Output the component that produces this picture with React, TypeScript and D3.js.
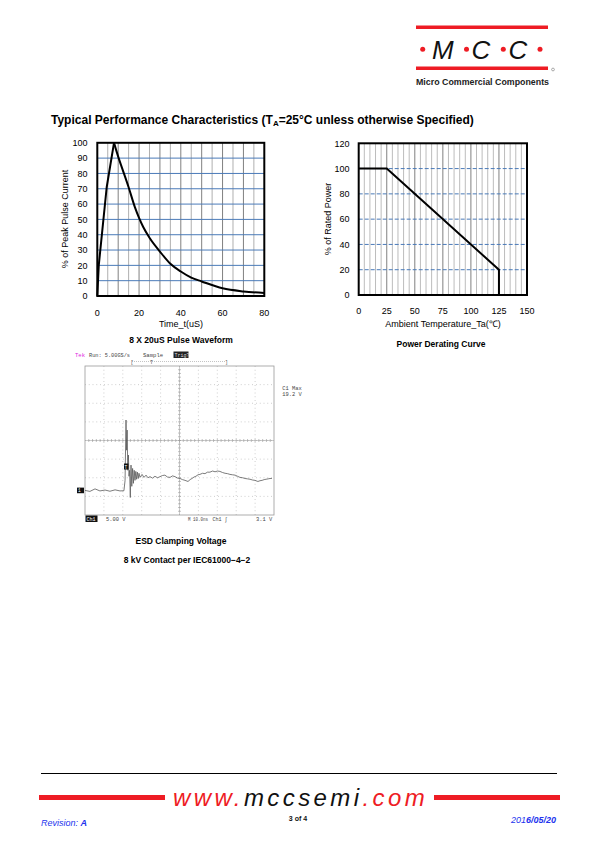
import React from "react";
import * as d3 from "d3";

// ---------- Data ----------
const pulseTime = [0, 0.7, 4.5, 8, 10, 12, 15, 18, 20, 22, 25, 30, 35, 40, 45, 50, 60, 70, 80];
const pulseCurrent = [0, 20, 71, 100, 91, 83, 71, 58, 51, 45, 38, 29, 21, 16, 12, 9.5, 5, 3, 2];
const pulseXTicks = [0, 20, 40, 60, 80];
const pulseYTicks = [0, 10, 20, 30, 40, 50, 60, 70, 80, 90, 100];

const derateTemp = [0, 25, 125, 125];
const deratePower = [100, 100, 20, 0];
const derateXTicks = [0, 25, 50, 75, 100, 125, 150];
const derateYTicks = [0, 20, 40, 60, 80, 100, 120];

// oscilloscope trace: time (ns), voltage (V)
const scopeTime = [
  0, 2.6, 5.3, 7.9, 10.6, 13.2, 15.9, 18.5, 20.6, 21.2, 21.7, 22.0, 22.3, 22.65, 22.96, 23.28, 23.6, 23.97,
  24.34, 24.76, 25.19, 25.61, 26.03, 26.46, 26.88, 27.3, 27.72, 28.15, 28.57, 29.1, 30.2, 31.2, 32.3, 33.3,
  34.4, 35.7, 37.0, 38.4, 39.7, 41.0, 42.3, 43.6, 45.0, 46.3, 47.6, 49.0, 50.3, 51.6, 52.9, 54.5, 55.6,
  56.6, 57.7, 58.7, 59.8, 60.8, 62.2, 63.5, 64.8, 66.1, 67.5, 68.8, 70.1, 71.4, 72.8, 74.1, 75.4, 76.7,
  78.0, 79.4, 80.7, 82.0, 83.4, 84.7, 86.0, 87.3, 88.6, 89.9, 91.5, 92.6, 93.7, 94.8, 95.8, 96.9, 97.9, 98.9,
];
const scopeVolt = [
  0, -0.27, 0.41, -0.14, 0.1, -0.22, 0.15, -0.14, -0.08, 2.7, 18.9, 10.8, 16.2, 5.4, 9.5, 3.8, 5.4, -1.9,
  6.8, 1.1, 5.9, 1.9, 5.4, 2.7, 5.1, 3.0, 4.9, 3.2, 4.6, 3.5, 4.3, 3.5, 4.1, 3.4,
  3.7, 3.3, 3.8, 3.4, 3.7, 4.0, 4.1, 3.6, 3.5, 3.9, 3.7, 3.3, 3.2, 2.9, 2.7, 2.4, 2.9,
  3.2, 3.6, 3.8, 4.2, 4.3, 4.6, 4.5, 4.9, 4.9, 5.2, 5.0, 5.2, 5.1, 4.8, 4.6, 4.5, 4.3,
  4.2, 4.1, 3.8, 3.5, 3.4, 3.2, 3.1, 3.0, 2.8, 2.7, 2.4, 2.6, 2.7, 2.9, 3.0, 3.1, 3.2, 3.2,
];

const FONT = "'Liberation Sans', Arial, sans-serif";
const BLUE_GRID = "#4a7ab8";

function PulseChart() {
  const x = d3.scaleLinear().domain([0, 80]).range([97.3, 264.3]);
  const y = d3.scaleLinear().domain([0, 100]).range([296, 142.8]);
  const rise = d3.line<number>().x((_, i) => x(pulseTime[i])).y((d) => y(d));
  const fall = d3
    .line<number>()
    .x((_, i) => x(pulseTime[i + 3]))
    .y((d) => y(d))
    .curve(d3.curveMonotoneX);
  const vgrid = d3.range(5, 80, 5);
  const hgrid = d3.range(10, 100, 10);
  return (
    <g fontFamily={FONT}>
      {vgrid.map((v) => (
        <line key={"v" + v} x1={x(v)} x2={x(v)} y1={y(0)} y2={y(100)} stroke={v % 10 === 0 ? "#808080" : "#b0b0b0"} strokeWidth={1} />
      ))}
      {hgrid.map((v) => (
        <line key={"h" + v} x1={x(0)} x2={x(80)} y1={y(v)} y2={y(v)} stroke={BLUE_GRID} strokeWidth={1} />
      ))}
      <rect x={x(0)} y={y(100)} width={x(80) - x(0)} height={y(0) - y(100)} fill="none" stroke="#000" strokeWidth={2} />
      <path d={rise(pulseCurrent.slice(0, 4)) || ""} fill="none" stroke="#000" strokeWidth={2} strokeLinejoin="round" />
      <path d={fall(pulseCurrent.slice(3)) || ""} fill="none" stroke="#000" strokeWidth={2} strokeLinejoin="round" />
      {pulseYTicks.map((v) => (
        <text key={"yt" + v} x={87.5} y={y(v) + 3.2} fontSize={9} textAnchor="end">{v}</text>
      ))}
      {pulseXTicks.map((v) => (
        <text key={"xt" + v} x={x(v)} y={315.5} fontSize={9} textAnchor="middle">{v}</text>
      ))}
      <text x={181} y={326.5} fontSize={9} textAnchor="middle">Time_t(uS)</text>
      <text transform={`translate(68,219) rotate(-90)`} fontSize={9} textAnchor="middle">% of Peak Pulse Current</text>
      <text x={181} y={343.3} fontSize={8.5} fontWeight="bold" textAnchor="middle">8 X 20uS Pulse Waveform</text>
    </g>
  );
}

function DerateChart() {
  const x = d3.scaleLinear().domain([0, 150]).range([358.7, 527]);
  const y = d3.scaleLinear().domain([0, 120]).range([295, 143.3]);
  const line = d3.line<number>().x((_, i) => x(derateTemp[i])).y((d) => y(d));
  const vgrid = d3.range(5, 150, 5);
  const hgrid = d3.range(20, 120, 20);
  return (
    <g fontFamily={FONT}>
      {vgrid.map((v) => (
        <line key={"v" + v} x1={x(v)} x2={x(v)} y1={y(0)} y2={y(120)} stroke={v % 25 === 0 ? "#808080" : "#bcbcbc"} strokeWidth={1} />
      ))}
      {hgrid.map((v) => (
        <line key={"h" + v} x1={x(0)} x2={x(150)} y1={y(v)} y2={y(v)} stroke={BLUE_GRID} strokeWidth={1} strokeDasharray="4,2" />
      ))}
      <rect x={x(0)} y={y(120)} width={x(150) - x(0)} height={y(0) - y(120)} fill="none" stroke="#000" strokeWidth={2} />
      <path d={line(deratePower) || ""} fill="none" stroke="#000" strokeWidth={2} />
      {derateYTicks.map((v) => (
        <text key={"yt" + v} x={349.5} y={y(v) + 3.2} fontSize={9} textAnchor="end">{v}</text>
      ))}
      {derateXTicks.map((v) => (
        <text key={"xt" + v} x={x(v)} y={313.5} fontSize={9} textAnchor="middle">{v}</text>
      ))}
      <text x={443} y={326.5} fontSize={9} textAnchor="middle">Ambient  Temperature_Ta(℃)</text>
      <text transform={`translate(331,219) rotate(-90)`} fontSize={9} textAnchor="middle">% of Rated Power</text>
      <text x={441} y={346.5} fontSize={8.5} fontWeight="bold" textAnchor="middle">Power Derating Curve</text>
    </g>
  );
}

function ScopeChart() {
  const x = d3.scaleLinear().domain([0, 100]).range([85, 274]);
  const y = d3.scaleLinear().domain([-6.6, 33.4]).range([515, 366]);
  const line = d3.line<number>().x((_, i) => x(scopeTime[i])).y((d) => y(d));
  const divX = d3.range(1, 10).map((i) => i * 10);
  const divY = d3.range(1, 8).map((i) => -6.6 + i * 5);
  const cx = x(50);
  const cy = y(13.4);
  const minorX = d3.range(1, 50).map((i) => i * 2);
  const minorY = d3.range(1, 40).map((i) => -6.6 + i);
  const mono = "'Liberation Mono', 'DejaVu Sans Mono', monospace";
  return (
    <g>
      {divX.map((v) => (
        <line key={"dx" + v} x1={x(v)} x2={x(v)} y1={y(33.4)} y2={y(-6.6)} stroke="#9a9a9a" strokeWidth={0.6} strokeDasharray="0.8,3" />
      ))}
      {divY.map((v) => (
        <line key={"dy" + v} x1={x(0)} x2={x(100)} y1={y(v)} y2={y(v)} stroke="#9a9a9a" strokeWidth={0.6} strokeDasharray="0.8,3" />
      ))}
      <line x1={cx} x2={cx} y1={y(33.4)} y2={y(-6.6)} stroke="#aaa" strokeWidth={0.6} />
      <line x1={x(0)} x2={x(100)} y1={cy} y2={cy} stroke="#aaa" strokeWidth={0.6} />
      {minorX.map((v) => (
        <line key={"mx" + v} x1={x(v)} x2={x(v)} y1={cy - 1.5} y2={cy + 1.5} stroke="#999" strokeWidth={0.6} />
      ))}
      {minorY.map((v) => (
        <line key={"my" + v} x1={cx - 1.5} x2={cx + 1.5} y1={y(v)} y2={y(v)} stroke="#999" strokeWidth={0.6} />
      ))}
      <rect x={x(0)} y={y(33.4)} width={x(100) - x(0)} height={y(-6.6) - y(33.4)} fill="none" stroke="#9a9a9a" strokeWidth={0.8} />
      <path d={line(scopeVolt) || ""} fill="none" stroke="#5a5a5a" strokeWidth={0.8} />
      {/* channel marker */}
      <rect x={77} y={y(0) - 2.8} width={7} height={5.6} fill="#111" />
      <text x={78} y={y(0) + 1.8} fontSize={4.5} fill="#fff" fontFamily={mono}>1</text>
      {/* trigger marker */}
      <rect x={124} y={463.5} width={4.5} height={6} fill="#111" />
      <text x={124.6} y={468.5} fontSize={4.5} fill="#fff" fontFamily={mono}>T</text>
      {/* header */}
      <text x={75} y={357} fontSize={5.6} fill="#e020e0" fontFamily={mono}>Tek</text>
      <text x={89} y={357} fontSize={5.6} fill="#444" fontFamily={mono} textLength={41} lengthAdjust="spacingAndGlyphs">Run: 5.00GS/s</text>
      <text x={143} y={357} fontSize={5.6} fill="#444" fontFamily={mono}>Sample</text>
      <rect x={173.5} y={351.5} width={15} height={6.5} fill="#222" />
      <text x={174.5} y={357} fontSize={5} fill="#ddd" fontFamily={mono}>Trig?</text>
      <line x1={132} x2={226} y1={361.5} y2={361.5} stroke="#888" strokeWidth={0.5} strokeDasharray="1,1" />
      <text x={130.5} y={363.5} fontSize={5} fill="#555" fontFamily={mono}>[</text>
      <text x={150} y={363.5} fontSize={5} fill="#555" fontFamily={mono}>T</text>
      <text x={225} y={363.5} fontSize={5} fill="#555" fontFamily={mono}>]</text>
      <text x={292} y={390} fontSize={5.4} fill="#444" fontFamily={mono} textAnchor="middle">C1 Max</text>
      <text x={292} y={396} fontSize={5.4} fill="#444" fontFamily={mono} textAnchor="middle">19.2 V</text>
      {/* footer of scope */}
      <rect x={85.5} y={515.5} width={12} height={6.5} fill="#111" />
      <text x={86.5} y={521} fontSize={5} fill="#fff" fontFamily={mono}>Ch1</text>
      <text x={106} y={521} fontSize={5.4} fill="#444" fontFamily={mono}>5.00 V</text>
      <text x={188} y={521} fontSize={5.4} fill="#444" fontFamily={mono} textLength={20} lengthAdjust="spacingAndGlyphs">M 10.0ns</text>
      <text x={212.5} y={521} fontSize={5.4} fill="#444" fontFamily={mono} textLength={15} lengthAdjust="spacingAndGlyphs">Ch1 ∫</text>
      <text x={256} y={521} fontSize={5.4} fill="#444" fontFamily={mono}>3.1 V</text>
      <g fontFamily={FONT} fontWeight="bold" fontSize={8.5} textAnchor="middle">
        <text x={181} y={544}>ESD Clamping Voltage</text>
        <text x={187} y={563}>8 kV Contact per IEC61000−4−2</text>
      </g>
    </g>
  );
}

function Logo() {
  const dots = [422.7, 466.5, 503.3, 540];
  return (
    <g>
      <rect x={416} y={25.5} width={132} height={3.5} fill="#ee1c24" />
      <rect x={416} y={66.5} width={132} height={3.5} fill="#ee1c24" />
      <circle cx={553} cy={69.5} r={1.4} fill="none" stroke="#777" strokeWidth={0.6} />
      {dots.map((d) => (
        <circle key={d} cx={d} cy={49.3} r={2.5} fill="#ee1c24" />
      ))}
      <g fontFamily={FONT} fontStyle="italic" fontSize={26} fill="#111">
        <text x={432} y={59.3}>M</text>
        <text x={471.5} y={59.3}>C</text>
        <text x={508.5} y={59.3}>C</text>
      </g>
      <text x={416} y={84.5} fontFamily={FONT} fontWeight="bold" fontSize={9.5} fill="#222" textLength={133} lengthAdjust="spacingAndGlyphs">Micro Commercial Components</text>
    </g>
  );
}

function Footer() {
  return (
    <g fontFamily={FONT}>
      <line x1={41} x2={557} y1={773.5} y2={773.5} stroke="#000" strokeWidth={1} />
      <rect x={39} y={795} width={126} height={5} fill="#ee1c24" />
      <rect x={434} y={795} width={126} height={5} fill="#ee1c24" />
      <text x={173} y={806} fontSize={24} fontStyle="italic" letterSpacing={3.4}>
        <tspan fill="#ee1c24">www.</tspan>
        <tspan fill="#111">mccsemi</tspan>
        <tspan fill="#ee1c24">.com</tspan>
      </text>
      <text x={41} y={826} fontSize={9} fontStyle="italic" fill="#2233ee">
        Revision: <tspan fontWeight="bold">A</tspan>
      </text>
      <text x={298} y={821} fontSize={7} fontWeight="bold" textAnchor="middle" fill="#111">3 of 4</text>
      <text x={556} y={823} fontSize={9} fontStyle="italic" fill="#2233ee" textAnchor="end">
        201<tspan fontWeight="bold">6/05/20</tspan>
      </text>
    </g>
  );
}

export default function App() {
  return (
    <svg width={595} height={842} viewBox="0 0 595 842" style={{ position: "absolute", left: 0, top: 0, background: "#fff" }}>
      <Logo />
      <text x={51} y={123.5} fontFamily={FONT} fontWeight="bold" fontSize={12} fill="#000">
        Typical Performance Characteristics (T<tspan fontSize={8} dy={2}>A</tspan><tspan dy={-2}>=25°C unless otherwise Specified)</tspan>
      </text>
      <PulseChart />
      <DerateChart />
      <ScopeChart />
      <Footer />
    </svg>
  );
}
